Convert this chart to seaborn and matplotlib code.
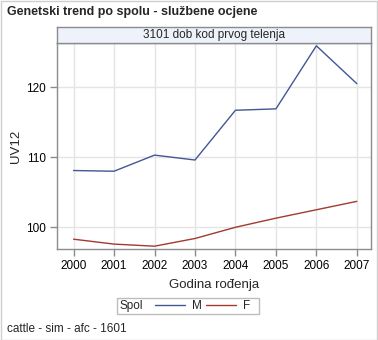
import matplotlib
matplotlib.use("Agg")
import matplotlib.pyplot as plt
from matplotlib.patches import Rectangle
import seaborn as sns
import pandas as pd

years = [2000, 2001, 2002, 2003, 2004, 2005, 2006, 2007]
uv12_m = [108.1, 108.0, 110.3, 109.6, 116.7, 116.9, 125.9, 120.5]
uv12_f = [98.3, 97.6, 97.3, 98.4, 100.0, 101.3, 102.5, 103.7]
sexes = ["M", "F"]
colors = ["#445694", "#A23A2E"]

title = "Genetski trend po spolu - službene ocjene"
panel_label = "3101 dob kod prvog telenja"
footnote = "cattle - sim - afc - 1601"

df = pd.DataFrame({
    "Godina rođenja": years * 2,
    "UV12": uv12_m + uv12_f,
    "Spol": [sexes[0]] * len(years) + [sexes[1]] * len(years),
})

sns.set_theme(style="white")
plt.rcParams["font.family"] = ["Liberation Sans", "DejaVu Sans"]

W, H = 378, 340
fig = plt.figure(figsize=(W / 100, H / 100), dpi=100)
fig.patch.set_facecolor("white")

def fx(px):
    return px / W

def fy(py):
    return 1 - py / H

# outer frame
fig.patches.append(Rectangle((0.5 / W, 0.5 / H), 1 - 1.5 / W, 1 - 1.5 / H,
                             transform=fig.transFigure, fill=False,
                             edgecolor="#CFCFCF", linewidth=1))

left, right, top, bottom = 57, 371, 43, 249
ax = fig.add_axes([fx(left), fy(bottom), fx(right - left), (bottom - top) / H])

sns.lineplot(data=df, x="Godina rođenja", y="UV12", hue="Spol",
             palette=dict(zip(sexes, colors)), linewidth=1.0, ax=ax)
handles, labels = ax.get_legend_handles_labels()
ax.get_legend().remove()

ax.set_xlim(1999.59, 2007.35)
ax.set_ylim(96.9, 126.3)
ax.set_xticks(years)
ax.set_xticklabels([str(y) for y in years])
ax.set_yticks([100, 110, 120])
ax.grid(True, color="#E4E4E4", linewidth=1.0)
ax.set_axisbelow(True)
for s in ax.spines.values():
    s.set_color("#8C8C8C")
    s.set_linewidth(1.0)
ax.tick_params(axis="both", which="major", length=5, width=1, color="#8C8C8C",
               labelsize=8.5, labelcolor="#000000", pad=3, bottom=True, left=True)
ax.set_xlabel("Godina rođenja", fontsize=9.5, labelpad=5)
ax.set_ylabel("UV12", fontsize=9.5, labelpad=3)

# panel header strip
hdr = fig.add_axes([fx(left), fy(top), fx(right - left), 16 / H])
hdr.set_facecolor("#EEF2FA")
hdr.set_xticks([])
hdr.set_yticks([])
for s in hdr.spines.values():
    s.set_color("#8C8C8C")
    s.set_linewidth(1.0)
hdr.text(0.5, 0.5, panel_label, ha="center", va="center", fontsize=8.5,
         transform=hdr.transAxes)

fig.text(fx(7), fy(12), title, ha="left", va="center", fontsize=9,
         fontweight="bold")
fig.text(fx(7), fy(329), footnote, ha="left", va="center", fontsize=8.5)

# legend box
lx0, lx1, ly0, ly1 = 117, 259, 298, 314
fig.patches.append(Rectangle((fx(lx0), fy(ly1)), fx(lx1 - lx0), (ly1 - ly0) / H,
                             transform=fig.transFigure, fill=False,
                             edgecolor="#BDBDBD", linewidth=1))
fig.text(fx(120), fy(306), "Spol", ha="left", va="center", fontsize=8.5)
leg = fig.legend(handles, labels, loc="center left",
                 bbox_to_anchor=(fx(155), fy(306)), ncol=2, frameon=False,
                 fontsize=8.5, handlelength=2.5, handletextpad=0.6,
                 columnspacing=0.4, borderpad=0, borderaxespad=0)

fig.savefig("out.png", dpi=100)
